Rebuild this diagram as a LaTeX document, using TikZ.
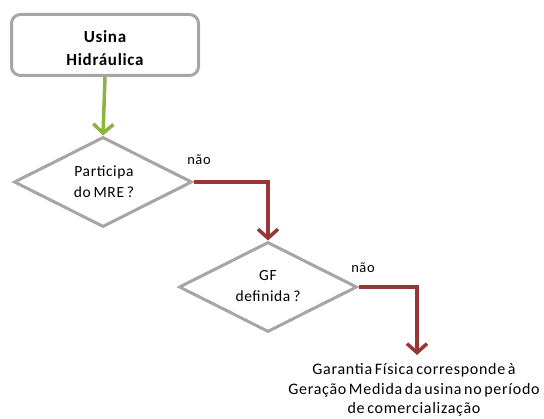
\documentclass[tikz,border=0pt]{standalone}
\usepackage{fontspec}
\setmainfont{Carlito}
\newfontfamily\widefont[LetterSpace=4,WordSpace=0.7]{Carlito}
\newfontfamily\tightfont[LetterSpace=4.5,WordSpace=0.6]{Carlito}
\usetikzlibrary{shapes.geometric,arrows.meta}
\definecolor{bordergray}{HTML}{A6A6A6}
\definecolor{arrowgreen}{HTML}{8DB33F}
\definecolor{arrowred}{HTML}{953735}
\tikzset{
  startbox/.style={draw=bordergray, line width=3pt, rounded corners=9pt, fill=white,
    minimum width=187pt, minimum height=61pt, inner sep=0pt},
  boxfont/.style={font=\widefont\fontsize{17}{23.5}\selectfont\bfseries, align=center, inner sep=0pt},
  decision/.style={diamond, draw=bordergray, line width=3pt, fill=white,
    minimum width=178pt, minimum height=90pt, inner sep=0pt},
  decfont/.style={font=\widefont\fontsize{15.5}{21}\selectfont, align=center, inner sep=0pt},
  result/.style={align=center, inner sep=0pt, font=\tightfont\fontsize{16}{19.5}\selectfont},
  lbl/.style={font=\widefont\fontsize{14.5}{15}\selectfont, inner sep=0pt},
  greenarrow/.style={draw=arrowgreen, line width=3.5pt, -{Straight Barb[length=9pt,width=20pt,line width=3.5pt]}},
  redarrow/.style={draw=arrowred, line width=3.5pt, -{Straight Barb[length=9pt,width=20pt,line width=3.5pt]}},
}
\begin{document}
\begin{tikzpicture}[x=1pt,y=-1pt]
\useasboundingbox (0,0) rectangle (544,419);
\node[startbox] (box) at (105,45) {};
\node[boxfont] (boxtext) at (105,48) {Usina\\Hidráulica};
\node[decision] (d1) at (103,182) {};
\node[decfont] (d1text) at (104,182) {Participa\\do MRE ?};
\node[decision] (d2) at (268,287) {};
\node[decfont] (d2text) at (268,286) {GF\\definida ?};
\node[result] (g) at (414,390) {Garantia Física corresponde à\\Geração Medida da usina no período\\de comercialização};
\coordinate (gtop) at (417,355);
\node[lbl] (n1) at (199,160) {não};
\node[lbl] (n2) at (363,268) {não};
\draw[greenarrow] (box.south) -- (d1.north);
\draw[redarrow] (d1.east) -| (d2.north);
\draw[redarrow] (d2.east) -| (gtop);
\end{tikzpicture}
\end{document}
